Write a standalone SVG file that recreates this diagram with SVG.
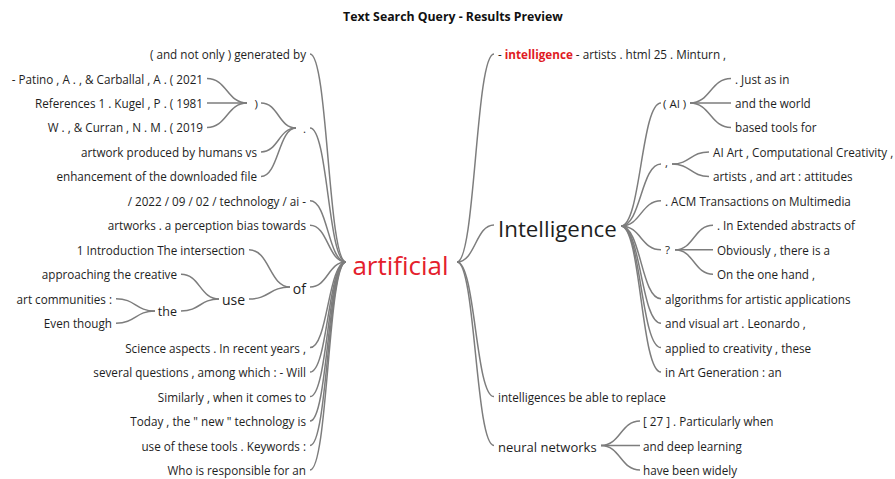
<svg xmlns="http://www.w3.org/2000/svg" width="895" height="479" viewBox="0 0 895 479">
  <style>
    text { font-family: "Open Sans", "Noto Sans", "Liberation Sans", sans-serif; fill: #1e1e1e; dominant-baseline: central; }
    .leaf { font-size: 11.7px; }
    .l { text-anchor: end; }
    .r { text-anchor: start; }
    .mid { font-size: 11.5px; }
    .hi { fill: #e01b24; font-weight: bold; }
    .root { font-size: 26px; fill: #e4202c; text-anchor: middle; }
    .title { font-size: 12.3px; font-weight: bold; text-anchor: middle; fill: #111; }
    #connectors path { fill: none; stroke: #7d7d7d; stroke-width: 1.5; }
  </style>

  <text class="title" x="453" y="16">Text Search Query - Results Preview</text>

  <!-- curved links: horizontal tangents at both ends, controls at mid x -->
  <g id="connectors">
    <!-- root, left side -->
    <path d="M310,54 C328,54 328,262 346,262"/>
    <path d="M310,128 C328,128 328,262 346,262"/>
    <path d="M310,200.8 C328,200.8 328,262 346,262"/>
    <path d="M310,225.3 C328,225.3 328,262 346,262"/>
    <path d="M310,287 C328,287 328,262 346,262"/>
    <path d="M310,347.6 C328,347.6 328,262 346,262"/>
    <path d="M310,372.1 C328,372.1 328,262 346,262"/>
    <path d="M310,396.6 C328,396.6 328,262 346,262"/>
    <path d="M310,421.1 C328,421.1 328,262 346,262"/>
    <path d="M310,445.5 C328,445.5 328,262 346,262"/>
    <path d="M310,470 C328,470 328,262 346,262"/>
    <!-- "." -->
    <path d="M261,103 C278.5,103 278.5,128 296,128"/>
    <path d="M261,151.9 C278.5,151.9 278.5,128 296,128"/>
    <path d="M261,176.4 C278.5,176.4 278.5,128 296,128"/>
    <!-- ")" -->
    <path d="M207,78.5 C227,78.5 227,103 247,103"/>
    <path d="M207,103 C227,103 227,103 247,103"/>
    <path d="M207,127.4 C227,127.4 227,103 247,103"/>
    <!-- "of" -->
    <path d="M249,249.8 C269.5,249.8 269.5,287 290,287"/>
    <path d="M249,299 C269.5,299 269.5,287 290,287"/>
    <!-- "use" -->
    <path d="M181,274.2 C200,274.2 200,299 219,299"/>
    <path d="M181,311 C200,311 200,299 219,299"/>
    <!-- "the" -->
    <path d="M116,298.7 C135.5,298.7 135.5,311 155,311"/>
    <path d="M116,323.2 C135.5,323.2 135.5,311 155,311"/>

    <!-- root, right side -->
    <path d="M457,262 C475.5,262 475.5,54 494,54"/>
    <path d="M457,262 C475.5,262 475.5,225 494,225"/>
    <path d="M457,262 C475.5,262 475.5,396.6 494,396.6"/>
    <path d="M457,262 C475.5,262 475.5,445.5 494,445.5"/>
    <!-- "Intelligence" -->
    <path d="M621,226 C641,226 641,103 661,103"/>
    <path d="M621,226 C641,226 641,164 661,164"/>
    <path d="M621,226 C641,226 641,200.8 661,200.8"/>
    <path d="M621,226 C641,226 641,249.8 661,249.8"/>
    <path d="M621,226 C641,226 641,298.7 661,298.7"/>
    <path d="M621,226 C641,226 641,323.2 661,323.2"/>
    <path d="M621,226 C641,226 641,347.6 661,347.6"/>
    <path d="M621,226 C641,226 641,372.1 661,372.1"/>
    <!-- "( AI )" -->
    <path d="M690,103 C710.5,103 710.5,78.5 731,78.5"/>
    <path d="M690,103 C710.5,103 710.5,103 731,103"/>
    <path d="M690,103 C710.5,103 710.5,127.4 731,127.4"/>
    <!-- "," -->
    <path d="M672,164 C690.5,164 690.5,151.9 709,151.9"/>
    <path d="M672,164 C690.5,164 690.5,176.4 709,176.4"/>
    <!-- "?" -->
    <path d="M675,249.8 C694,249.8 694,225.3 713,225.3"/>
    <path d="M675,249.8 C694,249.8 694,249.8 713,249.8"/>
    <path d="M675,249.8 C694,249.8 694,274.2 713,274.2"/>
    <!-- "neural networks" -->
    <path d="M601,445.5 C620.5,445.5 620.5,421.1 640,421.1"/>
    <path d="M601,445.5 C620.5,445.5 620.5,445.5 640,445.5"/>
    <path d="M601,445.5 C620.5,445.5 620.5,470 640,470"/>
  </g>

  <!-- root -->
  <g id="n-artificial"><text class="root" x="400.5" y="265">artificial</text></g>

  <!-- left side -->
  <g id="n-generated-by"><text class="leaf l" x="306" y="54">( and not only ) generated by</text></g>
  <g id="n-dot"><text class="mid l" x="306" y="128">.</text></g>
  <g id="n-paren"><text class="mid l" x="258" y="103">)</text></g>
  <g id="n-patino"><text class="leaf l" x="203" y="78.5">- Patino , A . , &amp; Carballal , A . ( 2021</text></g>
  <g id="n-kugel"><text class="leaf l" x="203" y="103">References 1 . Kugel , P . ( 1981</text></g>
  <g id="n-curran"><text class="leaf l" x="203" y="127.4">W . , &amp; Curran , N . M . ( 2019</text></g>
  <g id="n-artwork"><text class="leaf l" x="257" y="151.9">artwork produced by humans vs</text></g>
  <g id="n-enhancement"><text class="leaf l" x="257" y="176.4">enhancement of the downloaded file</text></g>
  <g id="n-2022"><text class="leaf l" x="306" y="200.8">/ 2022 / 09 / 02 / technology / ai -</text></g>
  <g id="n-artworks"><text class="leaf l" x="306" y="225.3">artworks . a perception bias towards</text></g>
  <g id="n-of"><text class="l" style="font-size:14px" x="306" y="288">of</text></g>
  <g id="n-introduction"><text class="leaf l" x="245" y="249.8">1 Introduction The intersection</text></g>
  <g id="n-use"><text class="l" style="font-size:14px" x="245" y="299">use</text></g>
  <g id="n-approaching"><text class="leaf l" x="177" y="274.2">approaching the creative</text></g>
  <g id="n-the"><text class="l" style="font-size:12.5px" x="177" y="311">the</text></g>
  <g id="n-communities"><text class="leaf l" x="112" y="298.7">art communities :</text></g>
  <g id="n-even-though"><text class="leaf l" x="112" y="323.2">Even though</text></g>
  <g id="n-science"><text class="leaf l" x="306" y="347.6">Science aspects . In recent years ,</text></g>
  <g id="n-questions"><text class="leaf l" x="306" y="372.1">several questions , among which : - Will</text></g>
  <g id="n-similarly"><text class="leaf l" x="306" y="396.6">Similarly , when it comes to</text></g>
  <g id="n-today"><text class="leaf l" x="306" y="421.1">Today , the " new " technology is</text></g>
  <g id="n-keywords"><text class="leaf l" x="306" y="445.5">use of these tools . Keywords :</text></g>
  <g id="n-responsible"><text class="leaf l" x="306" y="470">Who is responsible for an</text></g>

  <!-- right side -->
  <g id="n-minturn"><text class="leaf r" x="498" y="54">- <tspan class="hi">intelligence</tspan> - artists . html 25 . Minturn ,</text></g>
  <g id="n-intelligence"><text class="r" style="font-size:22.3px" x="498" y="228">Intelligence</text></g>
  <g id="n-ai"><text class="mid r" x="663" y="103">( AI )</text></g>
  <g id="n-just"><text class="leaf r" x="735" y="78.5">. Just as in</text></g>
  <g id="n-world"><text class="leaf r" x="735" y="103">and the world</text></g>
  <g id="n-based"><text class="leaf r" x="735" y="127.4">based tools for</text></g>
  <g id="n-comma"><text class="mid r" x="665" y="162">,</text></g>
  <g id="n-ai-art"><text class="leaf r" x="713" y="151.9">AI Art , Computational Creativity ,</text></g>
  <g id="n-attitudes"><text class="leaf r" x="713" y="176.4">artists , and art : attitudes</text></g>
  <g id="n-acm"><text class="leaf r" x="665" y="200.8">. ACM Transactions on Multimedia</text></g>
  <g id="n-question"><text class="mid r" x="665" y="249.8">?</text></g>
  <g id="n-extended"><text class="leaf r" x="717" y="225.3">. In Extended abstracts of</text></g>
  <g id="n-obviously"><text class="leaf r" x="717" y="249.8">Obviously , there is a</text></g>
  <g id="n-one-hand"><text class="leaf r" x="717" y="274.2">On the one hand ,</text></g>
  <g id="n-algorithms"><text class="leaf r" x="665" y="298.7">algorithms for artistic applications</text></g>
  <g id="n-leonardo"><text class="leaf r" x="665" y="323.2">and visual art . Leonardo ,</text></g>
  <g id="n-creativity"><text class="leaf r" x="665" y="347.6">applied to creativity , these</text></g>
  <g id="n-generation"><text class="leaf r" x="665" y="372.1">in Art Generation : an</text></g>
  <g id="n-replace"><text class="leaf r" x="498" y="396.6">intelligences be able to replace</text></g>
  <g id="n-neural"><text class="r" style="font-size:13px" x="498" y="446.5">neural networks</text></g>
  <g id="n-particularly"><text class="leaf r" x="643" y="421.1">[ 27 ] . Particularly when</text></g>
  <g id="n-deep"><text class="leaf r" x="643" y="445.5">and deep learning</text></g>
  <g id="n-widely"><text class="leaf r" x="643" y="470">have been widely</text></g>
</svg>
